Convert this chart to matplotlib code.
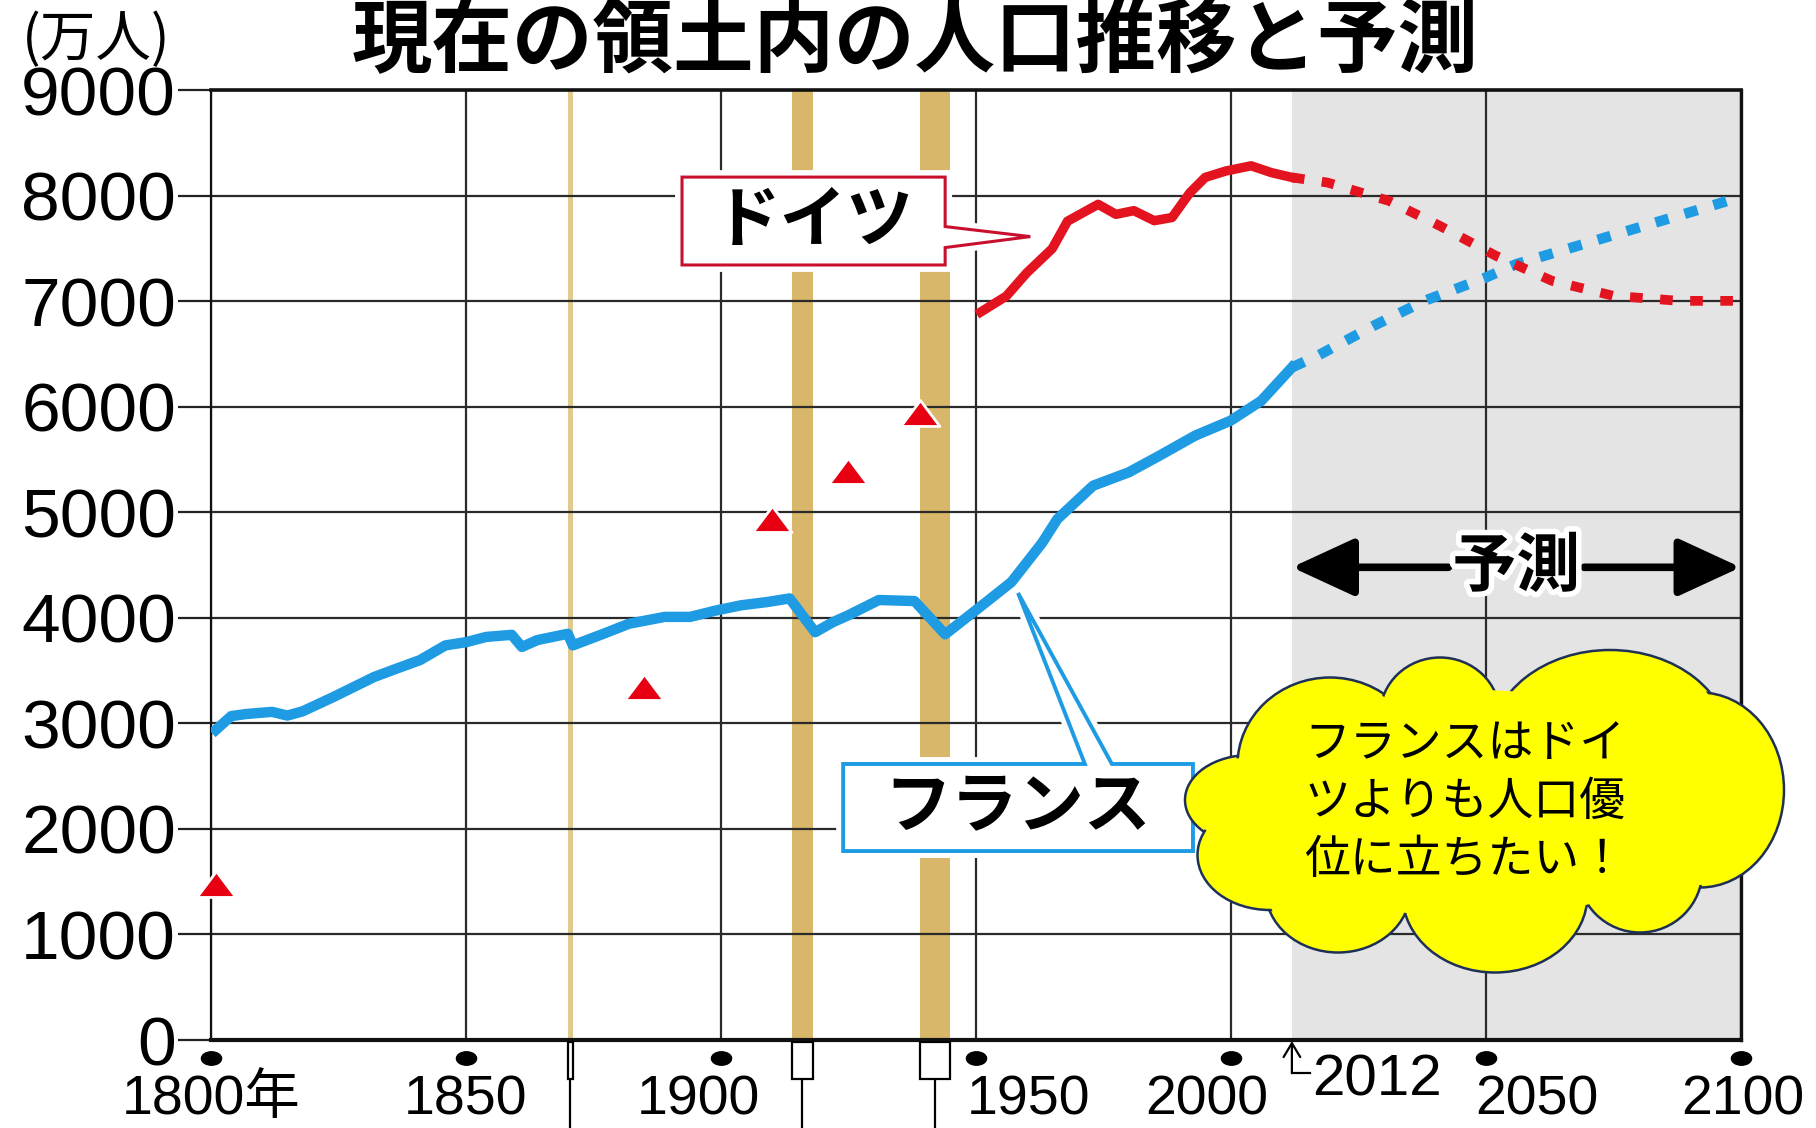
import matplotlib
matplotlib.use('Agg')
import matplotlib.pyplot as plt
import matplotlib.patheffects as pe
from matplotlib.patches import Polygon, Rectangle, Ellipse
from matplotlib.path import Path
from matplotlib.transforms import Affine2D

plt.rcParams['font.family'] = ['Noto Sans CJK JP', 'DejaVu Sans']

# population within present-day borders, in 10k persons
france_years = [1801, 1804, 1807, 1812, 1815, 1818, 1824, 1832, 1837, 1841, 1846, 1850,
                1854, 1859, 1861, 1864, 1870, 1871, 1877, 1882, 1889, 1894, 1899, 1904,
                1909, 1913.5, 1918.5, 1922, 1925, 1931, 1938, 1944, 1951, 1957, 1963,
                1966, 1973, 1980, 1986, 1993, 2000, 2006, 2012]
france_pop = [2940, 3070, 3090, 3110, 3075, 3115, 3250, 3440, 3530, 3600, 3740, 3770,
              3820, 3840, 3725, 3790, 3850, 3740, 3850, 3945, 4010, 4010, 4070, 4120,
              4150, 4185, 3865, 3960, 4025, 4170, 4160, 3845, 4110, 4340, 4710,
              4937, 5253, 5380, 5537, 5727, 5870, 6058, 6374]
france_fc_years = [2012, 2017, 2028, 2038, 2050, 2056, 2068, 2080, 2091, 2100]
france_fc_pop = [6374, 6484, 6768, 7005, 7226, 7353, 7526, 7700, 7858, 7990]

germany_years = [1951, 1956, 1960, 1965, 1968, 1974, 1977.5, 1981, 1985, 1988.5, 1992,
                 1995, 1999, 2004, 2008, 2012]
germany_pop = [6900, 7050, 7270, 7500, 7760, 7920, 7825, 7860, 7765, 7795, 8030,
               8175, 8235, 8285, 8220, 8175]
germany_fc_years = [2012, 2019, 2031, 2041, 2052, 2063, 2075, 2088, 2100]
germany_fc_pop = [8175, 8126, 7953, 7716, 7432, 7195, 7053, 7005, 7005]

# older estimates for Germany
germany_pts_years = [1801, 1885, 1910, 1925, 1939]
germany_pts_pop = [1480, 3345, 4940, 5390, 5940]

wars = [(1870, 1871), (1914, 1918), (1939, 1945)]
forecast_start = 2012
forecast_end = 2100

x_ticks = [1800, 1850, 1900, 1950, 2000, 2050, 2100]
x_labels = ['1800年', '1850', '1900', '1950', '2000', '2050', '2100']
y_ticks = [0, 1000, 2000, 3000, 4000, 5000, 6000, 7000, 8000, 9000]

title = '現在の領土内の人口推移と予測'
unit_label = '(万人)'
cloud_text = 'フランスはドイ\nツよりも人口優\n位に立ちたい！'

BLUE = '#1e9be3'
RED = '#e3141f'
TAN = '#d9b76a'
NUM_FONT = ['Liberation Sans', 'Noto Sans CJK JP']

fig = plt.figure(figsize=(18.16, 11.28), dpi=100)
ax = fig.add_axes([0.1161, 0.0780, 0.8424, 0.8419])
ax.set_xlim(1800, 2100)
ax.set_ylim(0, 9000)
ax.set_axisbelow(True)

# forecast period and war years
ax.axvspan(forecast_start, forecast_end, color='#e4e4e4', lw=0, zorder=0.2)
for a, b in wars:
    ax.axvspan(a, b, color=TAN, lw=0, zorder=0.3, alpha=0.75 if b - a < 2 else 1)

ax.set_xticks(x_ticks)
ax.set_yticks(y_ticks)
ax.set_yticklabels([str(v) for v in y_ticks], fontfamily=NUM_FONT, fontsize=50)
ax.tick_params(axis='x', length=0, labelbottom=False)
ax.tick_params(axis='y', length=24, width=1.6, pad=1, color='#222')
ax.grid(True, color='#2a2a2a', lw=1.6)
for side, lw in [('top', 2.6), ('bottom', 3.0), ('right', 2.4), ('left', 1.6)]:
    ax.spines[side].set_linewidth(lw)
    ax.spines[side].set_color('#111')

# series
ax.plot(france_years, france_pop, color=BLUE, lw=7.5, zorder=5)
ax.plot(france_fc_years, france_fc_pop, color=BLUE, lw=7.5, ls=(0, (1.3, 1.6)),
        dash_capstyle='butt', zorder=5)
ax.plot(germany_years, germany_pop, color=RED, lw=6.8, zorder=5)
ax.plot(germany_fc_years, germany_fc_pop, color=RED, lw=7, ls=(0, (1.3, 1.8)),
        dash_capstyle='butt', zorder=5)

tri = Path([(-1.5, -1), (1.5, -1), (0, 1), (-1.5, -1)],
           [Path.MOVETO, Path.LINETO, Path.LINETO, Path.CLOSEPOLY])
ax.plot(germany_pts_years, germany_pts_pop, ls='none', marker=tri, ms=28,
        color='#e60012', mec='white', mew=2, zorder=6, clip_on=False)


def callout(points, edge, lw):
    halo = Polygon(points, closed=True, fc='none', ec='white', lw=10, zorder=4.5)
    box = Polygon(points, closed=True, fc='white', ec=edge, lw=lw, zorder=7,
                  joinstyle='miter')
    ax.add_patch(halo)
    ax.add_patch(box)


# ドイツ label
gx0, gx1, gy0, gy1 = 1892.4, 1944.0, 7345, 8178
callout([(gx0, gy0), (gx1, gy0), (gx1, 7510), (1960.7, 7614), (gx1, 7709),
         (gx1, gy1), (gx0, gy1)], '#c8102e', 2.2)
ax.text((gx0 + gx1) / 2, (gy0 + gy1) / 2, 'ドイツ', fontsize=48, weight='bold',
        ha='center', va='center', zorder=8)

# フランス label
fx0, fx1, fy0, fy1 = 1924.0, 1992.6, 1791, 2616
callout([(fx0, fy0), (fx1, fy0), (fx1, fy1), (1976.7, fy1), (1958.3, 4236),
         (1971.4, fy1), (fx0, fy1)], BLUE, 2.8)
ax.text((fx0 + fx1) / 2, (fy0 + fy1) / 2, 'フランス', fontsize=48, weight='bold',
        ha='center', va='center', zorder=8)

# 予測 arrow
fc_y = 4480
fc_txt = ax.text((forecast_start + forecast_end) / 2, fc_y, '予測', fontsize=46,
                 weight='bold', ha='center', va='center', zorder=6,
                 path_effects=[pe.withStroke(linewidth=8, foreground='white')])
fig.canvas.draw()
bb = fc_txt.get_window_extent()
inv = ax.transData.inverted()
t_left = inv.transform((bb.x0 - 4, bb.y0))[0]
t_right = inv.transform((bb.x1 + 4, bb.y0))[0]
for start, end in [(t_left, forecast_start), (t_right, forecast_end)]:
    ax.annotate('', xy=(end, fc_y), xytext=(start, fc_y),
                arrowprops=dict(arrowstyle='-|>,head_length=1.3,head_width=0.6',
                                lw=5.5, color='black', mutation_scale=30,
                                shrinkA=0, shrinkB=0), zorder=5.5)

# marks below the x axis
trans = ax.get_xaxis_transform()
ax_h = ax.bbox.height


def below(px):
    return -px / ax_h


dot = Path.unit_circle().transformed(Affine2D().scale(1.5, 1.0))
ax.plot(x_ticks, [below(18)] * len(x_ticks), ls='none', marker=dot, ms=14.5,
        color='black', transform=trans, clip_on=False)
for a, b in wars:
    ax.add_patch(Rectangle((a, below(39)), b - a, -below(39) + below(1.5),
                           transform=trans, fc='white', ec='black', lw=1.6,
                           clip_on=False, zorder=3))
    c = (a + b) / 2
    ax.plot([c, c], [below(39), below(120)], color='black', lw=1.6,
            transform=trans, clip_on=False)

label_pos = [1800, 1850, 1895.6, 1960.3, 1995.3, 2060.0, 2100.5]
for pos, lab in zip(label_pos, x_labels):
    ax.text(pos, below(74), lab, transform=trans, fontsize=40, family=NUM_FONT,
            ha='center', va='baseline', clip_on=False)

# 2012 pointer
ax.annotate('', xy=(forecast_start, below(1)), xytext=(forecast_start, below(33)),
            xycoords=trans, textcoords=trans,
            arrowprops=dict(arrowstyle='->,head_length=0.5,head_width=0.3', lw=1.6,
                            color='black', mutation_scale=20, shrinkA=0, shrinkB=0))
ax.plot([forecast_start, forecast_start + 3.6], [below(33), below(33)], color='black',
        lw=1.6, transform=trans, clip_on=False)
ax.text(forecast_start + 4.0, below(55), str(forecast_start), transform=trans,
        fontsize=42, family=NUM_FONT, ha='left', va='baseline', clip_on=False)

fig.text(0.504, 0.962, title, fontsize=58, weight='bold', ha='center', va='center')
fig.text(0.053, 0.9645, unit_label, fontsize=40, ha='center', va='center')

# speech cloud, drawn in pixel coordinates
ov = fig.add_axes([0, 0, 1, 1], zorder=10)
ov.set_xlim(0, 1816)
ov.set_ylim(1128, 0)
ov.axis('off')
lobes = [(1250, 800, 130, 90), (1330, 765, 185, 175), (1440, 715, 120, 115),
         (1610, 745, 240, 190), (1700, 790, 168, 195), (1640, 870, 125, 125),
         (1495, 895, 185, 155), (1338, 890, 145, 125), (1270, 855, 145, 110)]
for cx, cy, w, h in lobes:
    ov.add_patch(Ellipse((cx, cy), w, h, fc='#ffff00', ec='#1f3057', lw=1.8, zorder=1))
for cx, cy, w, h in lobes:
    ov.add_patch(Ellipse((cx, cy), w - 5, h - 5, fc='#ffff00', ec='none', zorder=2))
ov.add_patch(Ellipse((1480, 805), 430, 230, fc='#ffff00', ec='none', zorder=2))
ov.text(1465, 802, cloud_text, fontsize=33, ha='center', va='center',
        multialignment='left', linespacing=1.25, zorder=3)

fig.savefig('out.png', dpi=100)
